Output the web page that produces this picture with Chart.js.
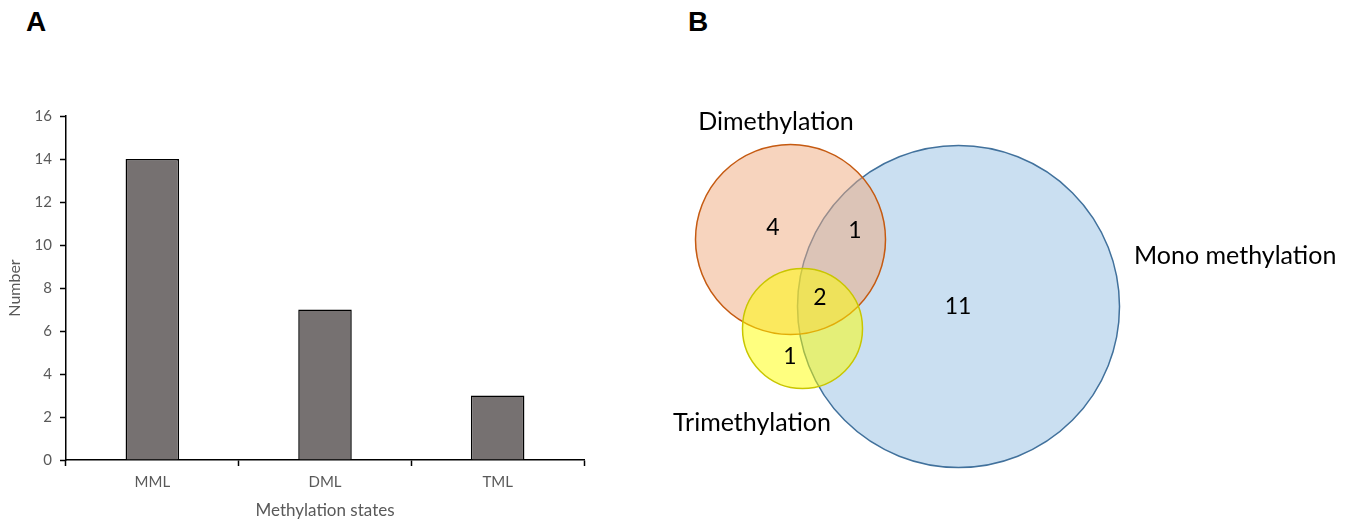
<!DOCTYPE html>
<html>
<head>
<meta charset="utf-8">
<script src="https://cdn.jsdelivr.net/npm/chart.js@4/dist/chart.umd.min.js"></script>
<style>
    html, body { margin: 0; padding: 0; background: #fff; }
    body { width: 1354px; height: 522px; position: relative; overflow: hidden; font-family: Lato, sans-serif; }
    .panel-tag { position: absolute; top: 6px; font: bold 28px "Liberation Sans Narrow", "Liberation Sans", sans-serif; color: #000; }
    #barWrap { position: absolute; left: 0; top: 0; width: 640px; height: 522px; }
    #vennWrap { position: absolute; left: 660px; top: 0; width: 694px; height: 522px; }
</style>
</head>
<body>
<div class="panel-tag" style="left:26px">A</div>
<div class="panel-tag" style="left:688px">B</div>
<div id="barWrap"><canvas id="barChart" width="640" height="522"></canvas></div>
<div id="vennWrap"><canvas id="vennChart" width="694" height="522"></canvas></div>

<script>
// --- Data ---
const states = ['MML', 'DML', 'TML'];
const stateCounts = [14, 7, 3];
const yMax = 16;
const yStep = 2;

const setNames = ['Mono methylation', 'Dimethylation', 'Trimethylation'];
// regions: Mono only, Di only, Tri only, Mono∩Di, Mono∩Di∩Tri
const regionCounts = [11, 4, 1, 1, 2];

// --- Venn layout (in venn axis units) ---
const vennX = [0, 694];
const vennY = [0, 522];
const circles = [
    { x: 298.5, y: 306.5, r: 161 },  // mono
    { x: 130.5, y: 239.5, r: 95 },   // di
    { x: 142.5, y: 328.5, r: 60 }    // tri
];
const circleFill = ['rgba(91,155,213,0.32)', 'rgba(240,170,125,0.5)', 'rgba(255,255,0,0.5)'];
const circleLine = ['#41719C', '#C55A11', '#C9C600'];
const setLabelPos = [
    { x: 474, y: 256, align: 'left' },
    { x: 116, y: 122, align: 'center' },
    { x: 92, y: 423, align: 'center' }
];
const regionPos = [
    { x: 298, y: 307 }, { x: 113, y: 228 }, { x: 130, y: 357 },
    { x: 195, y: 231 }, { x: 160, y: 298 }
];

const axisGrey = '#595959';

// --- Panel A: bar chart ---
new Chart(document.getElementById('barChart'), {
    type: 'bar',
    data: {
        labels: states,
        datasets: [{
            data: stateCounts,
            backgroundColor: '#767171',
            borderColor: '#000',
            borderWidth: 1.5,
            barPercentage: 0.31,
            categoryPercentage: 1
        }]
    },
    options: {
        responsive: false,
        animation: false,
        events: [],
        layout: { padding: { top: 116, right: 56, bottom: 0, left: 0 } },
        plugins: { legend: { display: false }, tooltip: { enabled: false } },
        scales: {
            x: {
                afterFit: (s) => { s.height = 62; },
                offset: true,
                grid: { offset: true, drawOnChartArea: false, tickLength: 6, tickColor: '#000', tickWidth: 1.5 },
                border: { color: '#000', width: 1.5 },
                ticks: { color: axisGrey, font: { family: 'Lato', size: 15 }, padding: 7 },
                title: { display: true, text: 'Methylation states', color: axisGrey,
                         font: { family: 'Lato', size: 17 }, padding: { top: 0, bottom: 1 } }
            },
            y: {
                afterFit: (s) => { s.width = 66; },
                min: 0,
                max: yMax,
                grid: { drawOnChartArea: false, tickLength: 6, tickColor: '#000', tickWidth: 1.5 },
                border: { color: '#000', width: 1.5 },
                ticks: { stepSize: yStep, color: axisGrey, font: { family: 'Lato', size: 15 }, padding: 8 },
                title: { display: true, text: 'Number', color: axisGrey,
                         font: { family: 'Lato', size: 16 }, padding: { top: 5.5, bottom: 0 } }
            }
        }
    }
});

// --- Panel B: Venn diagram drawn as bubbles ---
const vennLabels = {
    id: 'vennLabels',
    afterDatasetsDraw(chart) {
        const { ctx, scales: { x, y } } = chart;
        ctx.save();
        ctx.fillStyle = '#000';
        ctx.textBaseline = 'middle';
        ctx.font = '25px Lato';
        setNames.forEach((name, i) => {
            const p = setLabelPos[i];
            ctx.textAlign = p.align;
            ctx.fillText(name, x.getPixelForValue(p.x), y.getPixelForValue(p.y));
        });
        ctx.font = '23px Lato';
        ctx.textAlign = 'center';
        regionCounts.forEach((n, i) => {
            const p = regionPos[i];
            ctx.fillText(String(n), x.getPixelForValue(p.x), y.getPixelForValue(p.y));
        });
        ctx.restore();
    }
};

new Chart(document.getElementById('vennChart'), {
    type: 'bubble',
    data: {
        datasets: [{
            data: circles.map((c) => ({ x: c.x, y: c.y })),
            backgroundColor: circleFill,
            borderColor: circleLine,
            borderWidth: 1.5,
            // radius is given in x-axis units, converted to pixels
            radius: (ctx) => {
                const c = circles[ctx.dataIndex];
                if (!c) return 0;
                return c.r * ctx.chart.width / (vennX[1] - vennX[0]);
            },
            clip: false
        }]
    },
    options: {
        responsive: false,
        animation: false,
        events: [],
        layout: { padding: 0, autoPadding: false },
        plugins: { legend: { display: false }, tooltip: { enabled: false } },
        scales: {
            x: { type: 'linear', min: vennX[0], max: vennX[1], display: false },
            y: { type: 'linear', min: vennY[0], max: vennY[1], reverse: true, display: false }
        }
    },
    plugins: [vennLabels]
});
</script>
</body>
</html>
